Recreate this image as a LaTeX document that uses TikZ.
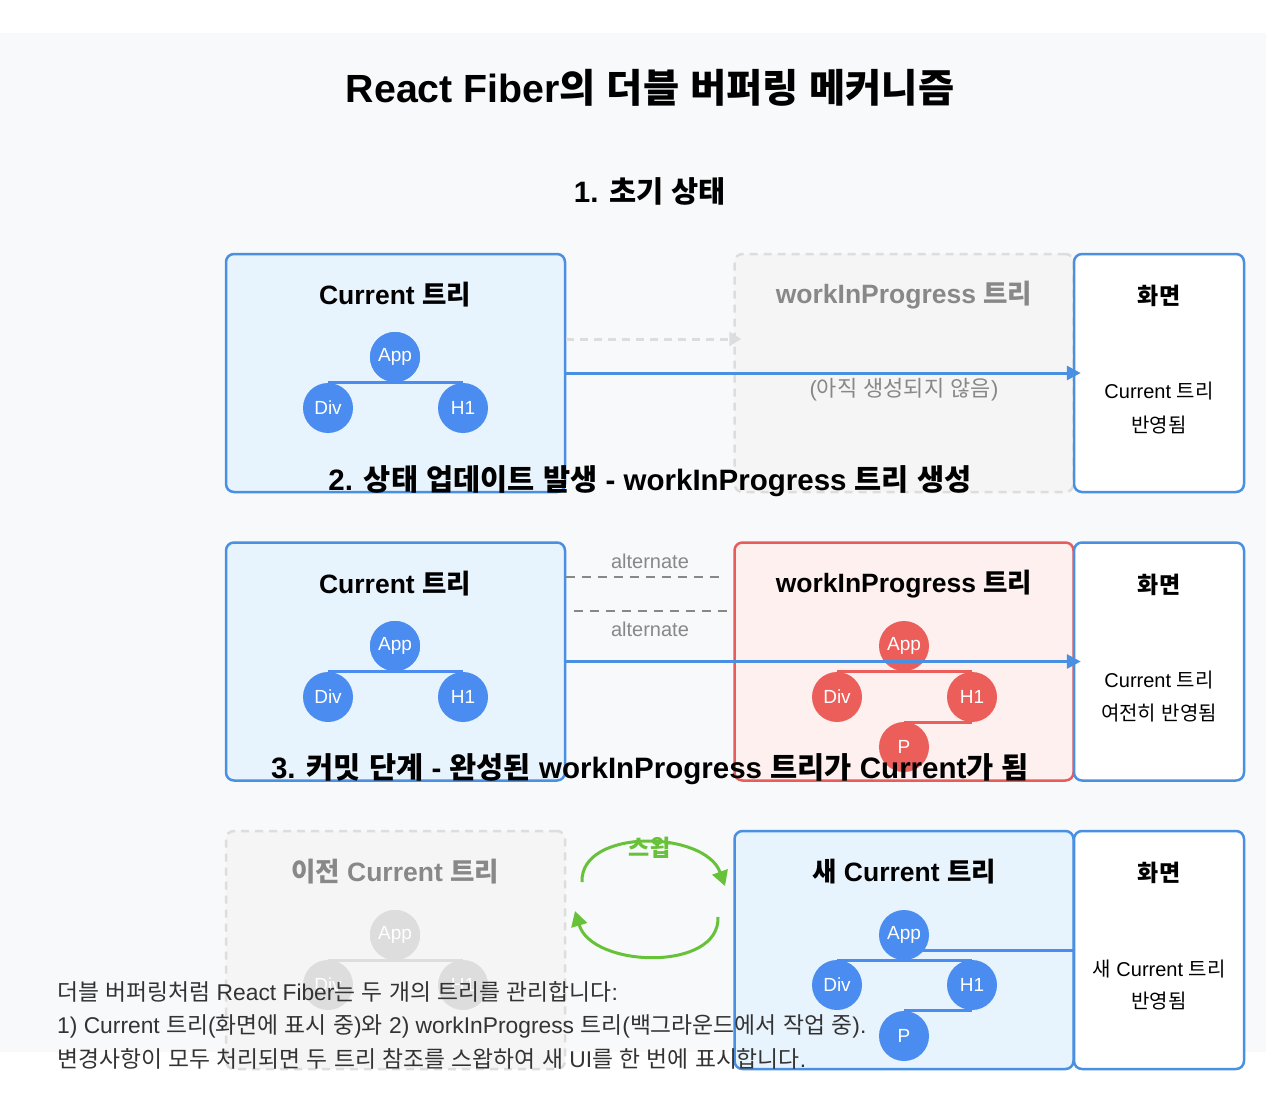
\documentclass[tikz,border=0pt]{standalone}
\usepackage{fontspec}
\setmainfont{Liberation Sans}
\newfontfamily\krfont{Noto Sans CJK KR}
\newfontfamily\latfont{Liberation Sans}
\usetikzlibrary{arrows.meta}
\newXeTeXintercharclass\krclass
\count255="AC00
\loop
  \XeTeXcharclass\count255=\krclass
  \ifnum\count255<"D7A3 \advance\count255 by 1
\repeat
\XeTeXinterchartoks 0 \krclass = {\krfont}
\XeTeXinterchartoks 4095 \krclass = {\krfont}
\XeTeXinterchartoks \krclass 0 = {\latfont}
\XeTeXinterchartoks \krclass 4095 = {\latfont}
\XeTeXinterchartokenstate=1
\definecolor{bgG}{HTML}{F8F9FA}
\definecolor{blueS}{HTML}{4A90E2}
\definecolor{blueC}{HTML}{4A8CF0}
\definecolor{blueL}{HTML}{E8F4FD}
\definecolor{redS}{HTML}{E85C5C}
\definecolor{redC}{HTML}{EB5E5A}
\definecolor{redL}{HTML}{FDF0EF}
\definecolor{grayS}{HTML}{DDDDDD}
\definecolor{grayL}{HTML}{F5F5F5}
\definecolor{grayT}{HTML}{888888}
\definecolor{greenA}{HTML}{67C23A}
\definecolor{textD}{HTML}{333333}
\begin{document}
\begin{tikzpicture}[x=1pt,y=-1pt,
  box/.style={rounded corners=8pt, line width=2.5pt, minimum width=339pt, minimum height=238pt, inner sep=0pt},
  curbox/.style={box, draw=blueS, fill=blueL},
  wipbox/.style={box, draw=redS, fill=redL},
  ghostbox/.style={box, draw=grayS, fill=grayL, dash pattern=on 8pt off 6pt},
  scrbox/.style={box, draw=blueS, fill=white, minimum width=170pt},
  tn/.style={circle, minimum size=50pt, inner sep=0pt, text=white, font=\fontsize{19}{22}\selectfont},
  bluen/.style={tn, fill=blueC},
  redn/.style={tn, fill=redC},
  grayn/.style={tn, fill=grayS},
  treeline/.style={line width=3pt},
  flow/.style={line width=3pt, draw=blueS, -{Triangle[length=14pt,width=14pt]}, shorten >=-8pt},
  ghostarrow/.style={line width=3pt, draw=grayS, dash pattern=on 8pt off 6pt, -{Triangle[length=12pt,width=14pt]}, shorten >=-8pt},
  altline/.style={line width=2pt, draw=grayT, dash pattern=on 9pt off 7pt},
  swap/.style={line width=3pt, draw=greenA, -{Triangle[length=15pt,width=16pt]}},
  maintitle/.style={font=\bfseries\fontsize{39.3}{45}\selectfont},
  heading/.style={font=\bfseries\fontsize{29.5}{35}\selectfont},
  boxtitle/.style={font=\bfseries\fontsize{26.5}{32}\selectfont},
  scrtitle/.style={font=\bfseries\fontsize{23}{28}\selectfont},
  scrtext/.style={font=\fontsize{20}{24}\selectfont},
  smalltext/.style={font=\fontsize{20}{24}\selectfont, text=grayT},
  note/.style={font=\fontsize{22.8}{27}\selectfont, text=textD, anchor=west, inner sep=0pt}
]
\useasboundingbox (0,0) rectangle (1266,1100);
\fill[bgG] (0,33) rectangle (1266,1052);

\node[maintitle] (title) at (650,88) {React Fiber의 더블 버퍼링 메커니즘};
\node[heading] (h1) at (650,191) {1. 초기 상태};

% ---------- Row 1
\node[curbox] (cur1) at (395.5,373) {};
\node[ghostbox] (wip1) at (904,373) {};
\node[scrbox] (scr1) at (1159,373) {};
\draw[ghostarrow] ([yshift=34pt]cur1.east) -- ([yshift=34pt]wip1.west);
\draw[flow] (cur1.east) -- (scr1.west);
\node[boxtitle] (cur1t) at (395,295) {Current 트리};
\node[bluen] (app1) at (395,357) {App};
\node[bluen] (div1) at (328,408) {Div};
\node[bluen] (hh1) at (463,408) {H1};
\draw[treeline, blueC] (div1 |- app1.south) -- (hh1 |- app1.south);
\node[bluen] at (app1) {App};
\node[boxtitle, text=grayT] (wip1t) at (904,295) {workInProgress 트리};
\node[smalltext, font=\fontsize{22}{26}\selectfont] (wip1s) at (904,390) {(아직 생성되지 않음)};
\node[scrtitle] (scr1t) at (1159,296) {화면};
\node[scrtext] (scr1a) at (1159,391) {Current 트리};
\node[scrtext] (scr1b) at (1159,425) {반영됨};

\node[heading] (h2) at (650,481) {2. 상태 업데이트 발생 - workInProgress 트리 생성};

% ---------- Row 2
\node[curbox] (cur2) at (395.5,661.5) {};
\node[wipbox] (wip2) at (904,661.5) {};
\node[scrbox] (scr2) at (1159,661.5) {};
\draw[altline] ([yshift=84.5pt]cur2.east) -- ([yshift=84.5pt,xshift=-8pt]wip2.west);
\draw[altline] ([yshift=51pt,xshift=8pt]cur2.east) -- ([yshift=51pt]wip2.west);
\node[smalltext] (alt1) at (650,561) {alternate};
\node[smalltext] (alt2) at (650,629) {alternate};
\node[boxtitle] (cur2t) at (395,584) {Current 트리};
\node[bluen] (app2) at (395,646) {App};
\node[bluen] (div2) at (328,697) {Div};
\node[bluen] (hh2) at (463,697) {H1};
\draw[treeline, blueC] (div2 |- app2.south) -- (hh2 |- app2.south);
\node[bluen] at (app2) {App};
\node[boxtitle] (wip2t) at (904,584) {workInProgress 트리};
\node[redn] (app2w) at (904,646) {App};
\node[redn] (div2w) at (837,697) {Div};
\node[redn] (hh2w) at (972,697) {H1};
\node[redn] (p2w) at (904,747) {P};
\draw[treeline, redC] (div2w |- app2w.south) -- (hh2w |- app2w.south);
\draw[treeline, redC] (p2w |- hh2w.south) -- (hh2w.south);
\draw[flow] (cur2.east) -- (scr2.west);
\node[scrtitle] (scr2t) at (1159,585) {화면};
\node[scrtext] (scr2a) at (1159,680) {Current 트리};
\node[scrtext] (scr2b) at (1159,713) {여전히 반영됨};

\node[heading] (h3) at (650,769) {3. 커밋 단계 - 완성된 workInProgress 트리가 Current가 됨};

% ---------- Row 3
\node[ghostbox] (old3) at (395.5,950) {};
\node[curbox] (new3) at (904,950) {};
\node[scrbox] (scr3) at (1159,950) {};
\node[boxtitle, text=grayT] (old3t) at (395,872) {이전 Current 트리};
\node[grayn] (app3o) at (395,935) {App};
\node[grayn] (div3o) at (328,985) {Div};
\node[grayn] (hh3o) at (463,985) {H1};
\draw[treeline, grayS] (div3o |- app3o.south) -- (hh3o |- app3o.south);
\node[grayn] at (app3o) {App};
\node[boxtitle] (new3t) at (904,872) {새 Current 트리};
\coordinate (appr3) at (904,950);
\draw[treeline, blueC] (appr3) -- (appr3 -| scr3.west);
\node[bluen] (app3) at (904,935) {App};
\node[bluen] (div3) at (837,985) {Div};
\node[bluen] (hh3) at (972,985) {H1};
\node[bluen] (p3) at (904,1036) {P};
\draw[treeline, blueC] (div3 |- app3.south) -- (hh3 |- app3.south);
\draw[treeline, blueC] (p3 |- hh3.south) -- (hh3.south);
\node[scrtitle] (scr3t) at (1159,873) {화면};
\node[scrtext] (scr3a) at (1159,969) {새 Current 트리};
\node[scrtext] (scr3b) at (1159,1001) {반영됨};

% swap arcs
\coordinate (sa) at (582,882);
\coordinate (sb) at (725,886);
\coordinate (sc) at (718,917);
\coordinate (sd) at (575,911);
\draw[swap] (sa) .. controls (580,828) and (705,830) .. (sb);
\draw[swap] (sc) .. controls (720,972) and (592,968) .. (sd);
\node[font=\bfseries\fontsize{23}{27}\selectfont, text=greenA] (swapl) at (650,848) {스왑};

% notes
\node[note] (n1) at (57,992) {더블 버퍼링처럼 React Fiber는 두 개의 트리를 관리합니다:};
\node[note] (n2) at (57,1026) {1) Current 트리(화면에 표시 중)와 2) workInProgress 트리(백그라운드에서 작업 중).};
\node[note] (n3) at (57,1059) {변경사항이 모두 처리되면 두 트리 참조를 스왑하여 새 UI를 한 번에 표시합니다.};
\end{tikzpicture}
\end{document}
